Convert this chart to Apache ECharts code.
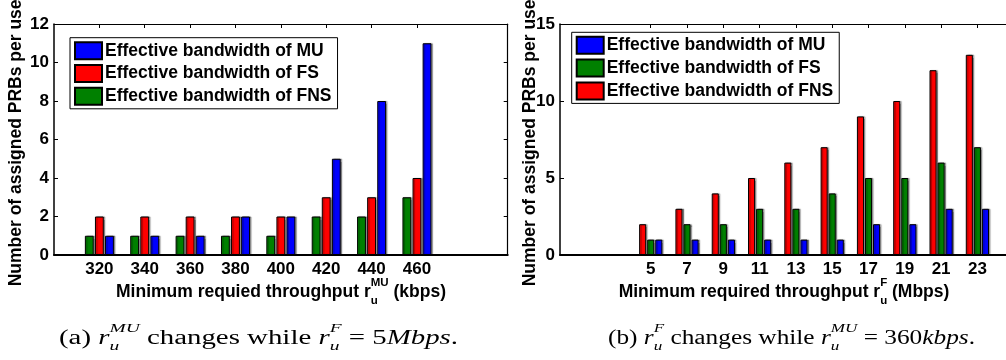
<!DOCTYPE html>
<html><head><meta charset="utf-8">
<script src="https://cdn.jsdelivr.net/npm/echarts@6/dist/echarts.min.js"></script>
<style>html,body{margin:0;padding:0;background:#fff}#c{width:1006px;height:360px}</style>
</head><body><div id="c"></div>
<script>
// ---------- data ----------
const leftCategories = [320, 340, 360, 380, 400, 420, 440, 460];
const leftMU  = [1, 1, 1, 2, 2, 5, 8, 11];
const leftFS  = [2, 2, 2, 2, 2, 3, 3, 4];
const leftFNS = [1, 1, 1, 1, 1, 2, 2, 3];

const rightCategories = [5, 7, 9, 11, 13, 15, 17, 19, 21, 23];
const rightMU  = [1, 1, 1, 1, 1, 1, 2, 2, 3, 3];
const rightFS  = [1, 2, 2, 3, 3, 4, 5, 5, 6, 7];
const rightFNS = [2, 3, 4, 5, 6, 7, 9, 10, 12, 13];

const leftXRange = [300, 500];
const leftYRange = [0, 12];
const leftYStep = 2;
const rightXRange = [0, 25];
const rightYRange = [0, 15];
const rightYStep = 5;

const NAME_MU = 'Effective bandwidth of MU';
const NAME_FS = 'Effective bandwidth of FS';
const NAME_FNS = 'Effective bandwidth of FNS';
const yTitle = 'Number of assigned PRBs per user';

// ---------- styling ----------
const SANS = "'Liberation Sans', Arial, Helvetica, sans-serif";
const SERIF = "'Liberation Serif', 'Times New Roman', serif";
const BLUE = '#0000ff', RED = '#ff0000', GREEN = '#008000';
const FS = 17.5;

const chart = echarts.init(document.getElementById('c'), null, {renderer: 'canvas'});

const mctx = document.createElement('canvas').getContext('2d');
function fontStr(p) { return (p.style || 'normal') + ' ' + (p.weight || 'normal') + ' ' + p.size + 'px ' + p.family; }
function tw(p) { mctx.font = fontStr(p); return mctx.measureText(p.t).width; }

// lays out text pieces on one baseline; optional targetWidth stretches horizontally
function textLine(pieces, cx, baseline, targetWidth) {
  const items = []; let x = 0;
  pieces.forEach(p => {
    if (p.stack) {
      let w = 0;
      p.stack.forEach(s => { items.push({s: s, x: x}); w = Math.max(w, tw(s)); });
      x += w;
    } else { items.push({s: p, x: x}); x += tw(p); }
  });
  const sx = targetWidth ? targetWidth / x : 1;
  return {
    type: 'group', silent: true,
    x: cx - x * sx / 2, y: 0, scaleX: sx, scaleY: 1,
    children: items.map(it => ({
      type: 'text',
      x: it.x,
      y: baseline + (it.s.dy || 0) - 0.33 * it.s.size,
      style: {
        text: it.s.t, font: fontStr(it.s), fill: '#000',
        textAlign: 'left', textVerticalAlign: 'middle', align: 'left', verticalAlign: 'middle'
      }
    }))
  };
}

const bs = (o) => Object.assign({family: SANS, weight: 'bold', size: FS}, o);
const sr = (o) => Object.assign({family: SERIF, size: 20}, o);
const si = (o) => Object.assign({family: SERIF, size: 20, style: 'italic'}, o);
const sis = (o) => Object.assign({family: SERIF, size: 13.5, style: 'italic'}, o);

const leftXTitle = [
  bs({t: 'Minimum requied throughput r'}),
  {stack: [bs({t: 'MU', size: 11.5, dy: -11.3}), bs({t: 'u', size: 11.5, dy: 6.7})]},
  bs({t: ' (kbps)'})
];
const rightXTitle = [
  bs({t: 'Minimum required throughput r'}),
  {stack: [bs({t: 'F', size: 11.5, dy: -11.3}), bs({t: 'u', size: 11.5, dy: 6.7})]},
  bs({t: ' (Mbps)'})
];
const leftCaption = [
  sr({t: '(a) '}), si({t: 'r'}),
  {stack: [sis({t: 'MU', dy: -12}), sis({t: 'u', dy: 6})]},
  sr({t: ' changes while '}), si({t: 'r'}),
  {stack: [sis({t: 'F', dy: -12}), sis({t: 'u', dy: 6})]},
  sr({t: ' = 5'}), si({t: 'Mbps'}), sr({t: '.'})
];
const rightCaption = [
  sr({t: '(b) '}), si({t: 'r'}),
  {stack: [sis({t: 'F', dy: -12}), sis({t: 'u', dy: 6})]},
  sr({t: ' changes while '}), si({t: 'r'}),
  {stack: [sis({t: 'MU', dy: -12}), sis({t: 'u', dy: 6})]},
  sr({t: ' = 360'}), si({t: 'kbps'}), sr({t: '.'})
];

const axisLineStyle = {color: '#000', width: 1.5};
const labelStyle = {color: '#000', fontWeight: 'bold', fontSize: 17, fontFamily: SANS};

function xAxes(gridIndex, range, cats) {
  return [
    {
      type: 'value', gridIndex: gridIndex, position: 'bottom', min: range[0], max: range[1],
      splitLine: {show: false},
      axisLine: {show: true, onZero: false, lineStyle: {color: '#000', width: 2}},
      axisTick: {show: true, inside: true, length: 4, customValues: cats, lineStyle: {color: '#000'}},
      axisLabel: Object.assign({show: true, margin: 6, customValues: cats}, labelStyle)
    },
    {
      type: 'value', gridIndex: gridIndex, position: 'top', min: range[0], max: range[1],
      splitLine: {show: false},
      axisLine: {show: true, onZero: false, lineStyle: {color: '#000', width: 1.2}},
      axisTick: {show: true, inside: true, length: 4, customValues: cats, lineStyle: {color: '#000'}},
      axisLabel: {show: false}
    }
  ];
}
function yAxes(gridIndex, range, step, gap) {
  return [
    {
      type: 'value', gridIndex: gridIndex, position: 'left', min: range[0], max: range[1], interval: step,
      splitLine: {show: false},
      axisLine: {show: true, onZero: false, lineStyle: axisLineStyle},
      axisTick: {show: true, inside: true, length: 4, lineStyle: {color: '#000'}},
      axisLabel: Object.assign({show: true, margin: 5}, labelStyle),
      name: yTitle, nameLocation: 'middle', nameGap: gap, nameMoveOverlap: false,
      nameTextStyle: {color: '#000', fontWeight: 'bold', fontSize: FS, fontFamily: SANS}
    },
    {
      type: 'value', gridIndex: gridIndex, position: 'right', min: range[0], max: range[1], interval: step,
      splitLine: {show: false},
      axisLine: {show: true, onZero: false, lineStyle: {color: '#000', width: 1.2}},
      axisTick: {show: true, inside: true, length: 4, lineStyle: {color: '#000'}},
      axisLabel: {show: false}
    }
  ];
}

function barSeries(name, color, cats, vals, axisIdx) {
  return {
    type: 'bar', name: name,
    xAxisIndex: axisIdx, yAxisIndex: axisIdx,
    data: cats.map((c, i) => [c, vals[i]]),
    barWidth: '19.5%', barGap: '14%',
    itemStyle: {
      color: color, borderColor: '#000', borderWidth: 1,
      shadowColor: 'rgba(0,0,0,0.35)', shadowBlur: 1, shadowOffsetX: 1.5, shadowOffsetY: 0
    },
    emphasis: {disabled: true},
    animation: false
  };
}

const legendCommon = {
  orient: 'vertical', itemWidth: 27, itemHeight: 17, itemGap: 3.8, icon: 'rect',
  backgroundColor: '#fff', borderColor: '#000', borderWidth: 1,
  padding: [3.5, 6, 3, 4],
  selectedMode: false,
  textStyle: {color: '#000', fontWeight: 'bold', fontSize: FS, fontFamily: SANS, padding: [0, 0, 0, -2]}
};

const option = {
  backgroundColor: '#fff',
  animation: false,
  grid: [
    {left: 54, top: 24, right: 1006 - 507.7, bottom: 105, outerBoundsMode: 'none', containLabel: false},
    {left: 560, top: 24, right: -7.7, bottom: 105, outerBoundsMode: 'none', containLabel: false}
  ],
  xAxis: [].concat(xAxes(0, leftXRange, leftCategories), xAxes(1, rightXRange, rightCategories)),
  yAxis: [].concat(yAxes(0, leftYRange, leftYStep, 29), yAxes(1, rightYRange, rightYStep, 21)),
  legend: [
    Object.assign({}, legendCommon, {
      left: 70, top: 37.7,
      data: [
        {name: NAME_MU, itemStyle: {color: BLUE}},
        {name: NAME_FS, itemStyle: {color: RED}},
        {name: NAME_FNS, itemStyle: {color: GREEN}}
      ]
    }),
    Object.assign({}, legendCommon, {
      left: 571.7, top: 32.3,
      data: [
        {name: NAME_MU, itemStyle: {color: BLUE}},
        {name: NAME_FS, itemStyle: {color: GREEN}},
        {name: NAME_FNS, itemStyle: {color: RED}}
      ]
    })
  ],
  series: [
    barSeries(NAME_FNS, GREEN, leftCategories, leftFNS, 0),
    barSeries(NAME_FS, RED, leftCategories, leftFS, 0),
    barSeries(NAME_MU, BLUE, leftCategories, leftMU, 0),
    barSeries(NAME_FNS, RED, rightCategories, rightFNS, 2),
    barSeries(NAME_FS, GREEN, rightCategories, rightFS, 2),
    barSeries(NAME_MU, BLUE, rightCategories, rightMU, 2)
  ],
  graphic: [
    textLine(leftXTitle, 281, 298.3),
    textLine(rightXTitle, 784, 298.3),
    textLine(leftCaption, 258.5, 345, 399),
    textLine(rightCaption, 791.5, 345, 367)
  ]
};
chart.setOption(option);
</script>
</body></html>
